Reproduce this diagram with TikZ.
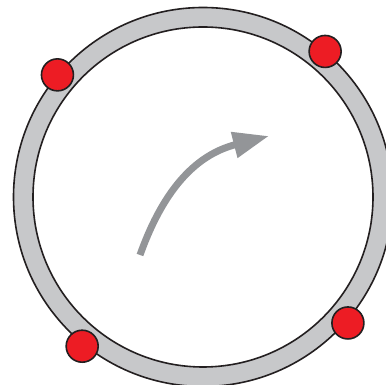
\documentclass[tikz,border=0pt]{standalone}
\usepackage{tikz}
\usetikzlibrary{arrows.meta,calc}

\definecolor{ringgray}{HTML}{C7C8CA}
\definecolor{arrowgray}{HTML}{939598}
\definecolor{dotred}{HTML}{ED1C24}
\definecolor{outline}{HTML}{231F20}

\begin{document}
\begin{tikzpicture}[
    x=1pt, y=1pt,
    ring/.style={fill=ringgray, draw=outline, line width=1.6pt, even odd rule},
    dot/.style={circle, draw=outline, line width=1.6pt, fill=dotred,
                minimum size=32pt, inner sep=0pt},
    turn/.style={draw=arrowgray, line width=7pt,
                 -{Triangle[length=36pt, width=25pt]}}
]
\useasboundingbox (0,0) rectangle (386,385);
\clip (0,0) rectangle (386,385);
\coordinate (c) at (203,188);
% ring
\path[ring] (c) circle[radius=189.5] (c) circle[radius=170];
% markers on the ring
\node[dot] (d1) at ($(c)+(140:190)$) {};
\node[dot] (d2) at ($(c)+(50:190)$) {};
\node[dot] (d3) at ($(c)+(231:192)$) {};
\node[dot] (d4) at ($(c)+(-41:192)$) {};
% rotation arrow
\coordinate (a0) at (140,130);
\coordinate (a1) at (269,249);
\draw[turn] (a0) .. controls (165,200) and (199,231) .. (a1);
\end{tikzpicture}
\end{document}
